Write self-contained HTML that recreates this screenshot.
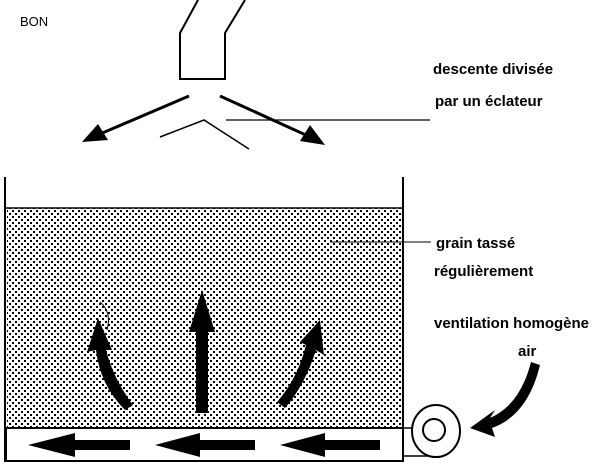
<!DOCTYPE html>
<html><head><meta charset="utf-8"><style>
html,body{margin:0;padding:0;background:#fff}
svg text{font-family:"Liberation Sans Narrow","Liberation Sans",sans-serif;font-weight:bold;font-size:15px;fill:#000}
</style></head><body>
<svg width="600" height="466" viewBox="0 0 600 466" xmlns="http://www.w3.org/2000/svg">
<defs>
<pattern id="dots" width="6" height="6" patternUnits="userSpaceOnUse">
<rect x="0" y="0" width="2" height="2" fill="#000"/>
<rect x="3" y="3" width="2" height="2" fill="#000"/>
</pattern>
</defs>
<text x="20" y="26" style="font-weight:normal;font-size:13px">BON</text>
<!-- funnel -->
<polyline points="198,0 180,33 180,79 225,79 225,33 245,0" fill="none" stroke="#000" stroke-width="2"/>
<!-- split arrows -->
<line x1="189" y1="96" x2="100" y2="134" stroke="#000" stroke-width="3"/>
<polygon points="82,142 98,124 108,140" fill="#000"/>
<line x1="220" y1="96" x2="308" y2="136" stroke="#000" stroke-width="3"/>
<polygon points="325,145 300,141 310,125" fill="#000"/>
<polyline points="160,137 204,120 249,149" fill="none" stroke="#000" stroke-width="1.5"/>
<line x1="226" y1="120" x2="430" y2="120" stroke="#000" stroke-width="1.2"/>
<text x="433" y="74">descente divisée</text>
<text x="435" y="106">par un éclateur</text>
<!-- bin -->
<rect x="7" y="208" width="395" height="220" fill="url(#dots)"/>
<line x1="5" y1="177" x2="5" y2="462" stroke="#000" stroke-width="2"/>
<line x1="403" y1="177" x2="403" y2="462" stroke="#000" stroke-width="2"/>
<line x1="5" y1="208" x2="403" y2="208" stroke="#000" stroke-width="1.5"/>
<rect x="6" y="428" width="397" height="33" fill="#fff" stroke="#000" stroke-width="2"/>
<!-- duct arrows -->
<g fill="#000">
<polygon points="28,445 75,433 75,440 130,440 130,450 75,450 75,457"/>
<polygon points="155,445 200,433 200,440 255,440 255,450 200,450 200,457"/>
<polygon points="280,445 325,433 325,440 380,440 380,450 325,450 325,457"/>
<!-- vertical arrows -->
<polygon points="202,290 215,332 208,332 208,413 196,413 196,332 189,332"/>
<path d="M98,318 L112,350 L106,350 Q114,380 133,405 L125,410 Q100,385 96,350 L87,352 Z"/>
<path d="M320,320 L324,355 L316,350 Q305,385 285,408 L277,402 Q298,378 306,345 L300,342 Z"/>
<!-- air arrow -->
<path d="M531,362 Q520,405 490,418 L495,410 L470,428 L495,437 L492,428 Q528,415 540,365 Z"/>
</g>
<path d="M100,302 Q112,312 107,330" fill="none" stroke="#000" stroke-width="1"/>
<!-- fan -->
<line x1="403" y1="428" x2="412" y2="428" stroke="#000" stroke-width="1.5"/>
<line x1="403" y1="456" x2="430" y2="456" stroke="#000" stroke-width="1.5"/>
<ellipse cx="436" cy="431" rx="24" ry="26" fill="#fff" stroke="#000" stroke-width="2"/>
<circle cx="434" cy="430" r="11" fill="#fff" stroke="#000" stroke-width="2"/>
<line x1="330" y1="242" x2="431" y2="242" stroke="#000" stroke-width="1"/>
<text x="436" y="248">grain tassé</text>
<text x="434" y="276">régulièrement</text>
<text x="434" y="328">ventilation homogène</text>
<text x="518" y="356">air</text>
</svg>
</body></html>
